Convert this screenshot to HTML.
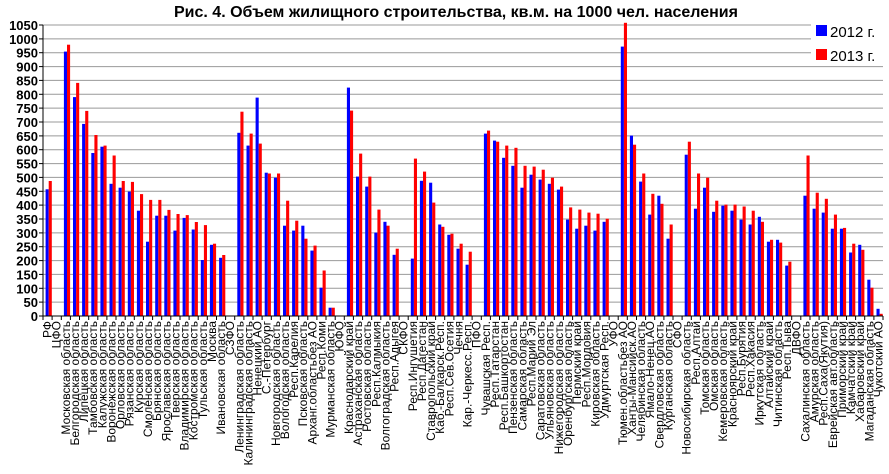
<!DOCTYPE html>
<html><head><meta charset="utf-8"><style>
body{margin:0;background:#fff;}
svg{display:block;font-family:"Liberation Sans","DejaVu Sans",sans-serif;}
</style></head><body>
<svg id="c" width="889" height="474" xmlns="http://www.w3.org/2000/svg"></svg>
<script>
const d=[
["РФ",457,487],["ЦФО",0,0],["Московская область",954,979],["Белгородская область",790,841],["Липецкая область",693,740],
["Тамбовская область",588,653],["Калужская область",611,615],["Воронежская область",477,579],["Орловская область",463,487],
["Рязанская область",449,484],["Курская область",380,440],["Смоленская область",268,419],["Брянская область",362,419],
["Ярославская область",362,383],["Тверская область",308,368],["Владимирская область",354,364],["Костромская область",312,339],
["Тульская область",202,328],["Москва",257,261],["Ивановская область",210,220],["СЗФО",0,0],
["Ленинградская область",661,737],["Калининградская область",615,658],["Ненецкий АО",788,622],["С.-Петербург",517,514],
["Новгородская область",499,514],["Вологодская область",326,416],["Респ.Карелия",308,344],["Псковская область",326,279],
["Арханг.областьбез АО",236,254],["Респ.Коми",102,164],["Мурманская область",30,30],["ЮФО",0,0],
["Краснодарский край",824,741],["Астраханская область",503,586],["Ростовская область",467,503],["Респ.Калмыкия",301,384],
["Волгоградская область",340,326],["Респ.Адыгея",221,243],["СКФО",0,0],["Респ.Ингушетия",207,568],
["Респ.Дагестан",488,521],["Ставропольский край",481,409],["Каб.-Балкарск.Респ.",330,322],["Респ.Сев.Осетия",293,297],
["Чечня",243,261],["Кар.-Черкесс.Респ.",185,232],["ПФО",0,0],["Чувашская Респ.",658,669],["Респ.Татарстан",633,629],
["Респ.Башкортостан",571,615],["Пензенская область",542,607],["Самарская область",463,542],["Респ.Марий Эл",510,539],
["Саратовская область",492,528],["Ульяновская область",477,499],["Нижегородская область",456,467],["Оренбургская область",348,392],
["Пермский край",315,384],["Респ.Мордовия",326,373],["Кировская область",308,369],["Удмуртская Респ.",340,351],["УФО",0,0],
["Тюмен.областьбез АО",972,1058],["Ханты-Мансийск.АО",651,618],["Челябинская область",485,514],["Ямало-Ненец.АО",366,441],
["Свердловская область",434,405],["Курганская область",279,330],["СФО",0,0],["Новосибирская область",582,629],
["Респ.Алтай",387,514],["Томская область",463,499],["Омская область",376,416],["Кемеровская область",398,402],
["Красноярский край",380,402],["Респ.Бурятия",348,395],["Респ.Хакасия",330,380],["Иркутская область",358,340],
["Алтайский край",268,275],["Читинская область",275,265],["Респ.Тыва",182,196],["ДВФО",0,0],
["Сахалинская область",434,579],["Амурская область",387,445],["Респ.Саха(Якутия)",373,423],["Еврейская авт.область",315,366],
["Приморский край",315,318],["Камчатский край",229,261],["Хабаровский край",257,239],["Магаданская область",131,102],["Чукотский АО",26,8]];
const x0=43,x1=883,y0=316,k=291/1050,n=d.length,p=(x1-x0)/n;
let s='';
s+='<text x="456" y="17" text-anchor="middle" font-size="16" font-weight="bold">Рис. 4. Объем жилищного строительства, кв.м. на 1000 чел. населения</text>';
for(let v=0;v<=1050;v+=50){const y=(y0-v*k).toFixed(1);
 if(v>0) s+=`<line x1="${x0}" x2="${x1}" y1="${y}" y2="${y}" stroke="#999" stroke-width="1"/>`;
 s+=`<line x1="${x0-4}" x2="${x0}" y1="${y}" y2="${y}" stroke="#000"/>`;
 s+=`<text x="${x0-5}" y="${(+y+5).toFixed(1)}" text-anchor="end" font-size="13" font-weight="bold">${v}</text>`;}
s+='<rect x="811" y="19" width="74" height="44" fill="#fff"/>';
d.forEach((r,i)=>{const sx=x0+i*p;
 if(r[1]>0)s+=`<rect x="${(sx+2.6).toFixed(1)}" y="${(y0-r[1]*k).toFixed(1)}" width="3.1" height="${(r[1]*k).toFixed(1)}" fill="#0000ff"/>`;
 if(r[2]>0)s+=`<rect x="${(sx+5.7).toFixed(1)}" y="${(y0-r[2]*k).toFixed(1)}" width="3.1" height="${(r[2]*k).toFixed(1)}" fill="#ff0000"/>`;
 const cx=sx+p/2+4;
 s+=`<text transform="translate(${cx.toFixed(1)},321) rotate(-90)" text-anchor="end" font-size="12">${r[0]}</text>`;
});
s+=`<line x1="${x0}" x2="${x0}" y1="25" y2="${y0}" stroke="#000"/>`;
s+=`<line x1="${x0}" x2="${x1}" y1="${y0}" y2="${y0}" stroke="#000"/>`;
for(let i=0;i<=n;i++){const x=(x0+i*p).toFixed(1);s+=`<line x1="${x}" x2="${x}" y1="${y0}" y2="${y0+4}" stroke="#000"/>`;}
s+='<rect x="816" y="25" width="11" height="11" fill="#0000ff"/><text x="830" y="37" font-size="15">2012 г.</text>';
s+='<rect x="816" y="49" width="11" height="11" fill="#ff0000"/><text x="830" y="61" font-size="15">2013 г.</text>';
document.getElementById('c').innerHTML=s;
</script>
</body></html>
